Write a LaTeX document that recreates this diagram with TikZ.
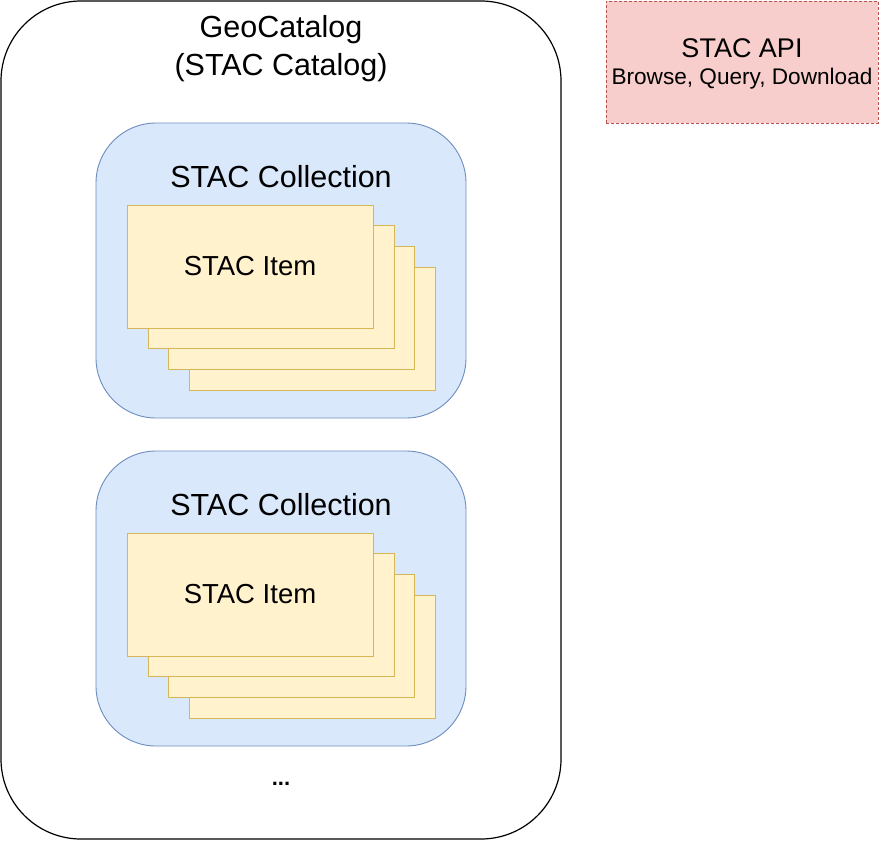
\documentclass[tikz,border=0pt]{standalone}
\usepackage{fontspec}
\setmainfont{Liberation Sans}
\definecolor{colfill}{HTML}{DAE8FC}
\definecolor{coldraw}{HTML}{6C8EBF}
\definecolor{itemfill}{HTML}{FFF2CC}
\definecolor{itemdraw}{HTML}{D6B656}
\definecolor{apifill}{HTML}{F8CECC}
\definecolor{apidraw}{HTML}{B85450}
\tikzset{
  catalogbox/.style={draw=black, line width=1.2pt, fill=white, rounded corners=80pt, minimum width=560pt, minimum height=838pt, inner sep=0pt},
  collbox/.style={draw=coldraw, line width=0.9pt, fill=colfill, rounded corners=60pt, minimum width=370pt, minimum height=295pt, inner sep=0pt},
  itembox/.style={draw=itemdraw, line width=0.9pt, fill=itemfill, minimum width=246pt, minimum height=123pt, inner sep=0pt, font=\fontsize{27.5}{32}\selectfont},
  apibox/.style={draw=apidraw, line width=0.8pt, dash pattern=on 3pt off 2pt, fill=apifill, minimum width=272pt, minimum height=122pt, inner sep=0pt},
  bigtext/.style={font=\fontsize{30.5}{38}\selectfont, align=center, inner sep=0pt},
}
\begin{document}
\begin{tikzpicture}[x=1pt,y=-1pt]
\useasboundingbox (0,0) rectangle (879,841);
\node[catalogbox] (catalog) at (281,420) {};
\node[bigtext] (catalogtitle) at (281,49) {GeoCatalog\\(STAC Catalog)};
% collection 1
\node[collbox] (coll1) at (281,270.5) {};
\node[bigtext] (coll1title) at (281,177) {STAC Collection};
\node[itembox] (c1i4) at (312,328.5) {};
\node[itembox] (c1i3) at (291,307.5) {};
\node[itembox] (c1i2) at (271,287) {};
\node[itembox] (c1i1) at (250,266.5) {STAC Item};
% collection 2
\node[collbox] (coll2) at (281,598.5) {};
\node[bigtext] (coll2title) at (281,505) {STAC Collection};
\node[itembox] (c2i4) at (312,656.5) {};
\node[itembox] (c2i3) at (291,635.5) {};
\node[itembox] (c2i2) at (271,615) {};
\node[itembox] (c2i1) at (250,594.5) {STAC Item};
% ellipsis
\node[font=\fontsize{22}{26}\selectfont\bfseries, inner sep=0pt] (dots) at (281,784) {...};
% API
\node[apibox] (api) at (742,62) {};
\node[font=\fontsize{27}{32}\selectfont, inner sep=0pt] (apititle) at (742,48) {STAC API};
\node[font=\fontsize{22.6}{28}\selectfont, inner sep=0pt] (apisub) at (742,79) {Browse, Query, Download};
\end{tikzpicture}
\end{document}
